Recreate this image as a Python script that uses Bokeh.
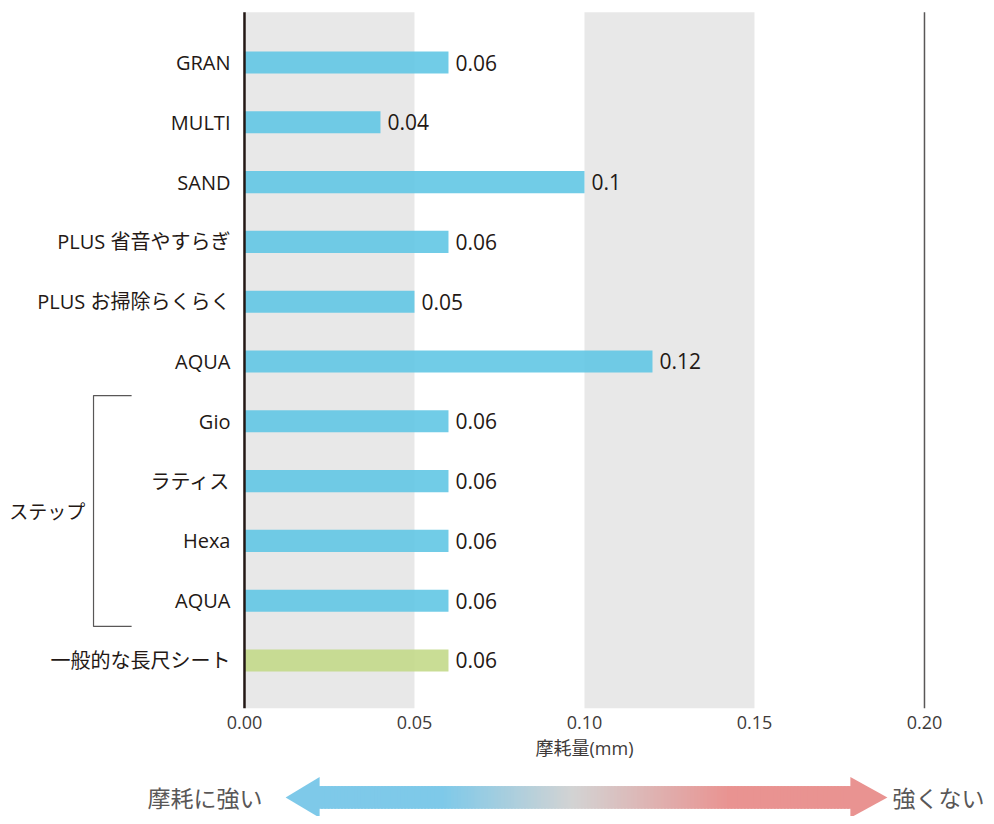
from bokeh.plotting import figure
from bokeh.models import Range1d, FixedTicker, NumeralTickFormatter, ColumnDataSource
from bokeh.embed import file_html
from bokeh.resources import INLINE
from bokeh.core.properties import value

# ---------------- data ----------------
categories = ["GRAN", "MULTI", "SAND", "PLUS 省音やすらぎ", "PLUS お掃除らくらく", "AQUA",
              "Gio", "ラティス", "Hexa", "AQUA", "一般的な長尺シート"]
wear = [0.06, 0.04, 0.10, 0.06, 0.05, 0.12, 0.06, 0.06, 0.06, 0.06, 0.06]
wear_labels = ["0.06", "0.04", "0.1", "0.06", "0.05", "0.12", "0.06", "0.06", "0.06", "0.06", "0.06"]
group_name = "ステップ"
group_members = [6, 7, 8, 9]          # indices in categories
x_ticks = [0.0, 0.05, 0.10, 0.15, 0.20]
shaded_bands = [(0.0, 0.05), (0.10, 0.15)]
axis_title = "摩耗量(mm)"
arrow_left_text = "摩耗に強い"
arrow_right_text = "強くない"

# ---------------- style ----------------
CJK = "Noto Sans CJK JP"
MIX = "Open Sans, Noto Sans CJK JP"
INK = "#231815"
GRAY_TXT = "#595757"
AX_TXT = "#3e3a39"
BLUE = "#62c6e4"
GREEN = "#c3d98a"

n = len(categories)
ys = [n - 1 - i for i in range(n)]
colors = [BLUE] * (n - 1) + [GREEN]
y_lo, y_hi = -0.80, n - 1 + 0.84

src = ColumnDataSource(dict(y=ys, wear=wear, label=wear_labels, color=colors))

p = figure(width=986, height=816, title=None,
           x_range=Range1d(-0.07176, 0.21824), y_range=Range1d(-2.609, 11.037),
           output_backend="svg", toolbar_location=None, min_border=0)
p.outline_line_color = None
p.grid.visible = False

# shaded bands and vertical rules
p.quad(left=[a for a, b in shaded_bands], right=[b for a, b in shaded_bands],
       bottom=y_lo, top=y_hi, fill_color="#e8e8e8", line_color=None)
p.segment(x0=[x_ticks[-1]], y0=[y_lo], x1=[x_ticks[-1]], y1=[y_hi], line_color=GRAY_TXT, line_width=1.5)

# bars + value labels
p.hbar(y="y", left=0, right="wear", height=0.37, fill_color="color", fill_alpha=0.9,
       line_color=None, source=src)
p.text(x="wear", y="y", text="label", x_offset=7, text_baseline="middle", text_align="left",
       text_font=value(MIX), text_font_size="21px", text_color=INK, source=src)

# zero axis line
p.segment(x0=[0], y0=[y_lo], x1=[0], y1=[y_hi], line_color=INK, line_width=2.5)

# y axis (category labels) placed at x=0
yax = p.yaxis[0]
yax.fixed_location = 0
yax.ticker = FixedTicker(ticks=ys)
yax.major_label_overrides = {y: c for y, c in zip(ys, categories)}
yax.axis_line_color = None
yax.major_tick_line_color = None
yax.minor_tick_line_color = None
yax.major_tick_out = 0
yax.major_label_standoff = 14
yax.major_label_text_font = MIX
yax.major_label_text_font_size = "20px"
yax.major_label_text_color = INK

# x axis placed at the bottom of the bands
xax = p.xaxis[0]
xax.fixed_location = y_lo
xax.ticker = FixedTicker(ticks=x_ticks)
xax.formatter = NumeralTickFormatter(format="0.00")
xax.axis_line_color = None
xax.major_tick_line_color = None
xax.minor_tick_line_color = None
xax.major_tick_out = 0
xax.major_label_standoff = 8
xax.major_label_text_font = MIX
xax.major_label_text_font_size = "18px"
xax.major_label_text_color = AX_TXT

# axis title centred under the tick span
p.text(x=[(x_ticks[0] + x_ticks[-1]) / 2], y=[y_lo], y_offset=40, text=[axis_title],
       text_align="center", text_baseline="middle", text_font=value(MIX),
       text_font_size="18px", text_color=AX_TXT)

# group bracket
g_top = ys[group_members[0]] + 0.43
g_bot = ys[group_members[-1]] - 0.43
bx0, bx1 = -0.0444, -0.0332
p.multi_line(xs=[[bx1, bx0, bx0, bx1]], ys=[[g_top, g_top, g_bot, g_bot]],
             line_color=GRAY_TXT, line_width=1.2)
g_mid = (ys[group_members[0]] + ys[group_members[-1]]) / 2
p.text(x=[-0.0468], y=[g_mid], text=[group_name], text_align="right", text_baseline="middle",
       text_font=value(CJK), text_font_size="19px", text_color=INK)

# ---------------- bottom double arrow with gradient ----------------
cy, body_h, head_h = -2.29, 0.19, 0.34
tip_l, base_l, base_r, tip_r = 0.0121, 0.0218, 0.1785, 0.1891
stops = [(base_l, (0x7e, 0xc9, 0xe9)), (0.0585, (0x7e, 0xc9, 0xe9)), (0.0971, (0xd3, 0xd3, 0xd3)),
         (0.1429, (0xe9, 0x93, 0x91)), (base_r, (0xe9, 0x93, 0x91))]


def col_at(x):
    for (x0, c0), (x1, c1) in zip(stops[:-1], stops[1:]):
        if x0 <= x <= x1:
            t = (x - x0) / (x1 - x0) if x1 > x0 else 0
            return "#%02x%02x%02x" % tuple(int(round(a + (b - a) * t)) for a, b in zip(c0, c1))
    return "#%02x%02x%02x" % stops[-1][1]


N = 160
step = (base_r - base_l) / N
ov = step * 0.3
lefts = [base_l + i * step - ov for i in range(N)]
rights = [base_l + (i + 1) * step + ov for i in range(N)]
cols = [col_at(base_l + (i + 0.5) * step) for i in range(N)]
p.quad(left=lefts, right=rights, top=[cy + body_h] * N, bottom=[cy - body_h] * N,
       fill_color=cols, line_color=None)
p.patch([tip_l, base_l + ov, base_l + ov], [cy, cy + head_h, cy - head_h],
        fill_color="#7ec9e9", line_color=None)
p.patch([tip_r, base_r - ov, base_r - ov], [cy, cy + head_h, cy - head_h],
        fill_color="#e99391", line_color=None)
p.text(x=[0.0053], y=[cy], text=[arrow_left_text], text_align="right", text_baseline="middle",
       text_font=value(CJK), text_font_size="23px", text_color=GRAY_TXT)
p.text(x=[0.1906], y=[cy], text=[arrow_right_text], text_align="left", text_baseline="middle",
       text_font=value(CJK), text_font_size="23px", text_color=GRAY_TXT)

open("out.html", "w").write(file_html(p, INLINE))
